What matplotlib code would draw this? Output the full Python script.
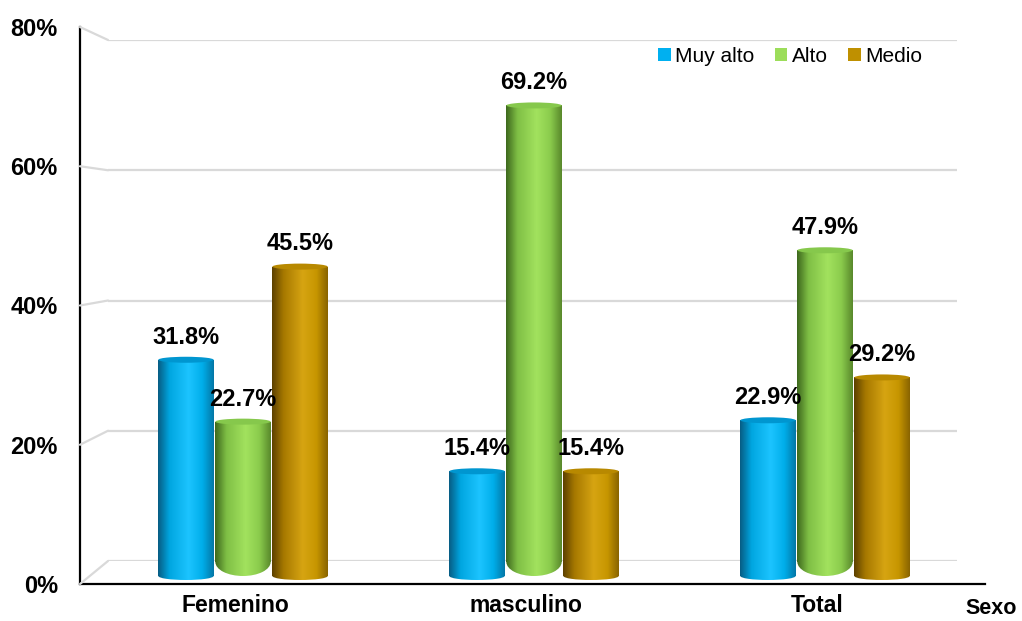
import numpy as np
import matplotlib.pyplot as plt
from matplotlib.colors import LinearSegmentedColormap
from matplotlib.patches import Ellipse, Patch, ConnectionPatch
from matplotlib.transforms import ScaledTranslation

plt.rcParams['font.family'] = ['Liberation Sans', 'DejaVu Sans']

# data
categories = ["Femenino", "masculino", "Total"]
series = ["Muy alto", "Alto", "Medio"]
muy_alto = [31.8, 15.4, 22.9]
alto = [22.7, 69.2, 47.9]
medio = [45.5, 15.4, 29.2]
y_ticks = [0, 20, 40, 60, 80]

# cylinder shading: edge dark -> highlight -> edge
shades = {
    "Muy alto": ["#075E85", "#00A6E0", "#1CC4FF", "#00AEEA", "#0478A8"],
    "Alto": ["#3F6A1E", "#7FBF45", "#A2E25E", "#8ACB4C", "#5A8A2C"],
    "Medio": ["#5E4200", "#A67800", "#D6A412", "#C79600", "#8A6500"],
}
legend_colors = {"Muy alto": "#00B0F0", "Alto": "#9CDD5A", "Medio": "#BF9000"}
cap_colors = {"Muy alto": "#0096D0", "Alto": "#86C84C", "Medio": "#B88900"}

W, H = 1022, 621
fig = plt.figure(figsize=(W / 100, H / 100), dpi=100)


def box(l, t, r, b):
    return [l / W, 1 - b / H, (r - l) / W, (b - t) / H]


px = 80 / 544  # one pixel in % units on the bar plane
y_lo = -3

ax_back = fig.add_axes(box(108, 40, 957, 561))
ax_bars = fig.add_axes(box(97.5, 32, 970.5, 576 - y_lo / px))
ax_front = fig.add_axes(box(80, 27, 985, 584))

# back wall gridlines
ax_back.set_xlim(0, 1)
ax_back.set_ylim(0, 80)
ax_back.axis("off")
for t in y_ticks:
    ax_back.axhline(t, color="#D9D9D9", lw=1.6)
    cp = ConnectionPatch(xyA=(0, t), coordsA=ax_front.get_yaxis_transform(),
                         xyB=(0, t), coordsB=ax_back.get_yaxis_transform(),
                         color="#D9D9D9", lw=1.6)
    fig.add_artist(cp)

# bars
x = np.arange(len(categories))
width = 0.19
offsets = [-0.196, 0, 0.196]
grad = np.linspace(0, 1, 64).reshape(1, -1)

for name, vals, off in zip(series, [muy_alto, alto, medio], offsets):
    cmap = LinearSegmentedColormap.from_list(name, list(zip([0, 0.2, 0.55, 0.8, 1], shades[name])))
    round_bottom = name == "Alto"
    bot_h = 28 * px if round_bottom else 8 * px
    base = bot_h / 2 if round_bottom else 0
    for xi, v in zip(x + off, vals):
        rect = ax_bars.bar(xi, v - base, width, bottom=base, color="none", lw=0)[0]
        ell = Ellipse((xi, base), width, bot_h, fc="none", lw=0)
        ax_bars.add_patch(ell)
        for clip in (rect, ell):
            im = ax_bars.imshow(grad, cmap=cmap, aspect="auto", interpolation="bilinear",
                                extent=(xi - width / 2, xi + width / 2, y_lo, v), zorder=2)
            im.set_clip_path(clip)
        ax_bars.add_patch(Ellipse((xi, v), width, 6 * px, fc=cap_colors[name], lw=0, zorder=3))
        ax_bars.annotate(f"{v:.1f}%", (xi, v), xytext=(0, 8), textcoords="offset points",
                         ha="center", va="bottom", fontsize=17, fontweight="bold", zorder=4)

ax_bars.set_xlim(-0.5, 2.5)
ax_bars.set_ylim(y_lo, 80)
ax_bars.set_facecolor("none")
for s in ax_bars.spines.values():
    s.set_visible(False)
ax_bars.set_yticks([])
ax_bars.set_xticks(x)
ax_bars.set_xticklabels(categories, fontsize=16.5, fontweight="bold")
ax_bars.tick_params(axis="x", length=0, pad=-1.5)
shift = ScaledTranslation(-0.08, 0, fig.dpi_scale_trans)
for lab in ax_bars.get_xticklabels():
    lab.set_transform(lab.get_transform() + shift)

# front frame with y labels
ax_front.set_facecolor("none")
ax_front.set_ylim(0, 80)
ax_front.set_xlim(0, 1)
ax_front.set_xticks([])
ax_front.set_yticks(y_ticks)
ax_front.set_yticklabels([f"{t}%" for t in y_ticks], fontsize=17, fontweight="bold")
ax_front.tick_params(axis="y", length=0, pad=16)
ax_front.spines[["top", "right"]].set_visible(False)
ax_front.spines[["left", "bottom"]].set_linewidth(1.6)

fig.text(991 / W, 1 - 609 / H, "Sexo", ha="center", va="center", fontsize=15.5, fontweight="bold")

handles = [Patch(facecolor=legend_colors[s], label=s) for s in series]
fig.legend(handles=handles, loc="center", bbox_to_anchor=(790 / W, 1 - 56 / H),
           ncol=3, frameon=False, fontsize=15, handlelength=0.6, handleheight=0.6,
           handletextpad=0.2, columnspacing=1.0)

fig.savefig("out.png", dpi=100)
